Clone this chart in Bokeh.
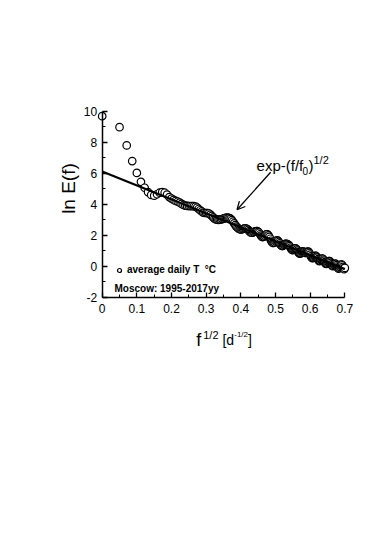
from bokeh.plotting import figure
from bokeh.models import (LinearAxis, FixedTicker, CustomJSTickFormatter, Range1d,
                          Label, Arrow, OpenHead, Legend, LegendItem)
from bokeh.embed import file_html
from bokeh.resources import INLINE

# ---- data -------------------------------------------------------------
sqrt_f = [0, 0.05, 0.0707, 0.0866, 0.1, 0.1118, 0.1225, 0.1323, 0.1414, 0.15,
          0.1581, 0.1658, 0.1732, 0.1803, 0.1871, 0.1936, 0.2, 0.2062, 0.2121, 0.2179,
          0.2236, 0.2291, 0.2345, 0.2398, 0.2449, 0.25, 0.2550, 0.2598, 0.2646, 0.2693,
          0.2739, 0.2784, 0.2828, 0.2872, 0.2915, 0.2958, 0.3, 0.3041, 0.3082, 0.3122,
          0.3162, 0.3202, 0.3240, 0.3279, 0.3317, 0.3354, 0.3391, 0.3428, 0.3464, 0.35,
          0.3536, 0.3571, 0.3606, 0.3640, 0.3674, 0.3708, 0.3742, 0.3775, 0.3808, 0.3841,
          0.3873, 0.3905, 0.3937, 0.3969, 0.4, 0.4031, 0.4062, 0.4093, 0.4123, 0.4153,
          0.4183, 0.4213, 0.4243, 0.4272, 0.4301, 0.4330, 0.4359, 0.4387, 0.4416, 0.4444,
          0.4472, 0.45, 0.4528, 0.4555, 0.4583, 0.4610, 0.4637, 0.4664, 0.4690, 0.4717,
          0.4743, 0.4770, 0.4796, 0.4822, 0.4848, 0.4873, 0.4899, 0.4924, 0.4950, 0.4975,
          0.5, 0.5025, 0.5050, 0.5074, 0.5099, 0.5123, 0.5148, 0.5172, 0.5196, 0.5220,
          0.5244, 0.5268, 0.5292, 0.5315, 0.5339, 0.5362, 0.5385, 0.5408, 0.5431, 0.5454,
          0.5477, 0.55, 0.5523, 0.5545, 0.5568, 0.5590, 0.5612, 0.5635, 0.5657, 0.5679,
          0.5701, 0.5723, 0.5745, 0.5766, 0.5788, 0.5809, 0.5831, 0.5852, 0.5874, 0.5895,
          0.5916, 0.5937, 0.5958, 0.5979, 0.6, 0.6021, 0.6042, 0.6062, 0.6083, 0.6103,
          0.6124, 0.6144, 0.6164, 0.6185, 0.6205, 0.6225, 0.6245, 0.6265, 0.6285, 0.6305,
          0.6325, 0.6344, 0.6364, 0.6384, 0.6403, 0.6423, 0.6442, 0.6461, 0.6481, 0.65,
          0.6519, 0.6538, 0.6557, 0.6576, 0.6595, 0.6614, 0.6633, 0.6652, 0.6671, 0.6690,
          0.6708, 0.6727, 0.6745, 0.6764, 0.6782, 0.6801, 0.6819, 0.6837, 0.6856, 0.6874,
          0.6892, 0.6910, 0.6928, 0.6946, 0.6964, 0.6982, 0.7]

ln_E = [9.70, 8.99, 7.81, 6.80, 6.04, 5.46, 5.08, 4.80, 4.62, 4.57,
        4.66, 4.76, 4.80, 4.76, 4.64, 4.48, 4.38, 4.30, 4.23, 4.18,
        4.12, 4.04, 3.97, 3.93, 3.91, 3.90, 3.90, 3.89, 3.89, 3.86,
        3.80, 3.71, 3.63, 3.55, 3.48, 3.45, 3.45, 3.44, 3.42, 3.35,
        3.26, 3.17, 3.09, 3.04, 3.02, 3.01, 3.02, 3.04, 3.06, 3.09,
        3.12, 3.14, 3.15, 3.14, 3.12, 3.07, 2.99, 2.89, 2.78, 2.67,
        2.57, 2.50, 2.44, 2.40, 2.39, 2.40, 2.42, 2.45, 2.46, 2.45,
        2.42, 2.36, 2.28, 2.22, 2.18, 2.18, 2.21, 2.24, 2.27, 2.28,
        2.28, 2.24, 2.18, 2.08, 1.99, 1.91, 1.90, 1.93, 1.99, 2.05,
        2.08, 2.08, 2.01, 1.91, 1.79, 1.66, 1.57, 1.52, 1.52, 1.55,
        1.61, 1.67, 1.69, 1.65, 1.58, 1.49, 1.40, 1.34, 1.32, 1.35,
        1.40, 1.44, 1.46, 1.46, 1.45, 1.42, 1.38, 1.31, 1.22, 1.13,
        1.07, 1.06, 1.09, 1.14, 1.17, 1.16, 1.11, 1.02, 0.93, 0.86,
        0.83, 0.85, 0.90, 0.95, 0.97, 0.96, 0.92, 0.88, 0.88, 0.92,
        0.95, 0.96, 0.94, 0.87, 0.77, 0.66, 0.58, 0.54, 0.56, 0.60,
        0.65, 0.68, 0.68, 0.64, 0.57, 0.47, 0.39, 0.35, 0.37, 0.43,
        0.48, 0.51, 0.50, 0.45, 0.38, 0.28, 0.20, 0.17, 0.19, 0.24,
        0.30, 0.35, 0.35, 0.31, 0.24, 0.14, 0.06, 0.02, 0.05, 0.10,
        0.15, 0.18, 0.16, 0.09, 0.00, -0.09, -0.14, -0.10, -0.02, 0.06,
        0.13, 0.13, 0.08, -0.02, -0.12, -0.17, -0.09]

fit_x = [0.0, 0.7]
fit_y = [6.13, -0.17]

x_ticks = [0, 0.1, 0.2, 0.3, 0.4, 0.5, 0.6, 0.7]
x_minor = [0.05, 0.15, 0.25, 0.35, 0.45, 0.55, 0.65]
y_ticks = [-2, 0, 2, 4, 6, 8, 10]
y_minor = [-1, 1, 3, 5, 7, 9]

arrow_from = (0.486, 6.08)
arrow_to = (0.389, 3.66)

FONT = "Liberation Sans"

# ---- figure -----------------------------------------------------------
p = figure(frame_width=330, frame_height=456,
           min_border_left=40, min_border_right=0,
           min_border_top=0, min_border_bottom=40,
           x_range=Range1d(-0.17802, 0.77409), y_range=Range1d(-12.258, 17.161),
           x_axis_type=None, y_axis_type=None,
           output_backend="svg", toolbar_location=None)
p.outline_line_color = None
p.background_fill_color = "white"
p.border_fill_color = "white"

fmt = CustomJSTickFormatter(code="return tick.toString()")

xaxis = LinearAxis(fixed_location=-2, bounds=(0, 0.7),
                   ticker=FixedTicker(ticks=x_ticks, minor_ticks=x_minor),
                   formatter=fmt)
yaxis = LinearAxis(fixed_location=0, bounds=(-2, 10),
                   ticker=FixedTicker(ticks=y_ticks, minor_ticks=y_minor),
                   formatter=fmt)
for ax in (xaxis, yaxis):
    ax.axis_line_width = 1.5
    ax.axis_line_color = "black"
    ax.major_tick_in = 5
    ax.major_tick_out = 0
    ax.minor_tick_in = 3
    ax.minor_tick_out = 0
    ax.major_tick_line_width = 1.3
    ax.minor_tick_line_width = 1.0
    ax.major_tick_line_color = "black"
    ax.minor_tick_line_color = "black"
    ax.major_label_text_font = FONT
    ax.major_label_text_font_size = "12px"
    ax.major_label_text_color = "black"
    ax.major_label_standoff = 5
xaxis.major_label_standoff = 7
p.add_layout(xaxis, "below")
p.add_layout(yaxis, "left")

pts = p.scatter(sqrt_f, ln_E, marker="circle", size=7.5,
                fill_color="white", line_color="black", line_width=1.2)
p.line(fit_x, fit_y, line_color="black", line_width=2.2)

p.add_layout(Arrow(x_start=arrow_from[0], y_start=arrow_from[1],
                   x_end=arrow_to[0], y_end=arrow_to[1],
                   line_width=1.3, line_color="black",
                   end=OpenHead(size=8, line_width=1.3, line_color="black")))

def lab(x, y, text, size, bold=False, angle=0, align="left", baseline="alphabetic"):
    p.add_layout(Label(x=x, y=y, text=text, text_font=FONT,
                       text_font_size=f"{size}px",
                       text_font_style="bold" if bold else "normal",
                       text_color="black", angle=angle,
                       text_align=align, text_baseline=baseline))

# formula annotation
lab(0.4454, 6.52, "exp-(f/f", 15)
lab(0.578, 6.19, "0", 10)
lab(0.5953, 6.52, ")", 15)
lab(0.6096, 6.84, "1/2", 11)

# axis titles
lab(-0.0972, 5.03, "ln E(f)", 19, angle=1.5707963, align="center", baseline="middle")
lab(0.271, -4.71, "f", 18)
lab(0.2915, -4.45, "1/2", 11)
lab(0.347, -4.71, "[d", 14)
lab(0.381, -4.39, "-1/2", 8)
lab(0.421, -4.71, "]", 14)

# legend
legend = Legend(items=[LegendItem(label="average daily T  \u00b0C", renderers=[pts])],
                location=(74, 181), padding=0, margin=0, spacing=0,
                glyph_width=10, glyph_height=10, label_height=10,
                label_standoff=3, border_line_color=None,
                background_fill_alpha=0,
                label_text_font=FONT, label_text_font_size="10px",
                label_text_font_style="bold", label_text_color="black")
p.add_layout(legend, "center")
lab(0.0355, -1.40, "Moscow: 1995-2017yy", 10, bold=True)

open("out.html", "w").write(file_html(p, INLINE))
